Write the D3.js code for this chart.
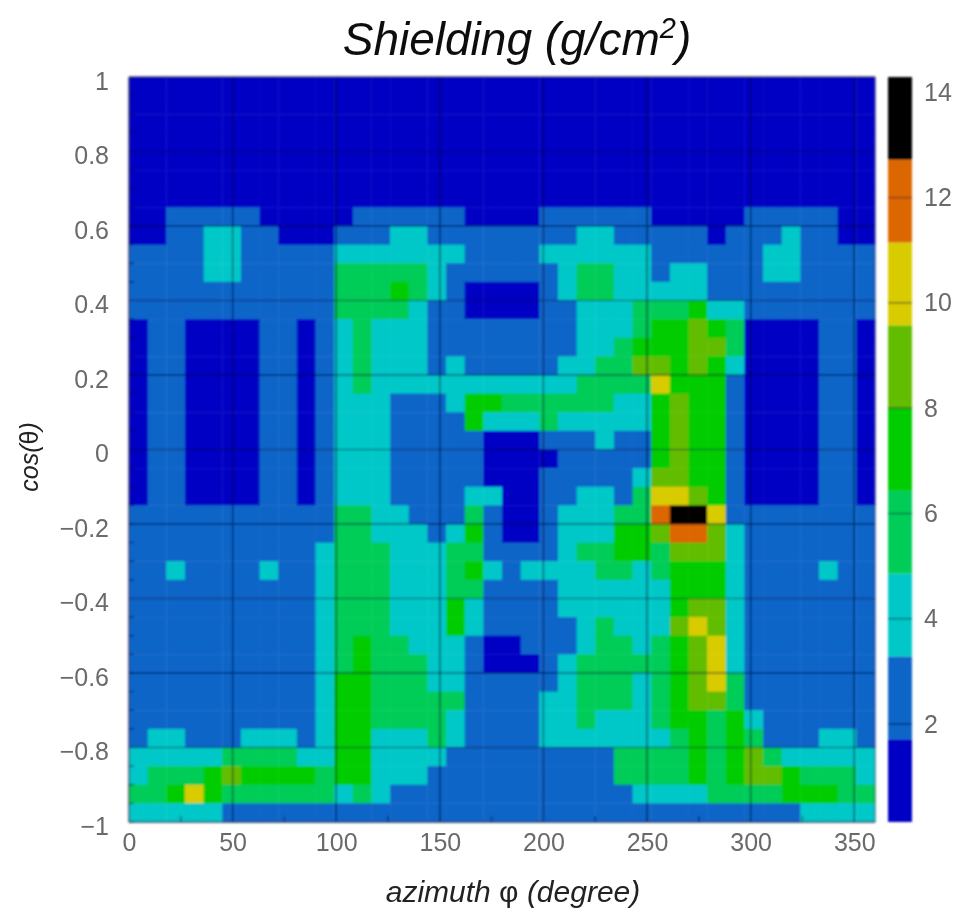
<!DOCTYPE html>
<html>
<head>
<meta charset="utf-8">
<title>Shielding</title>
<script src="https://cdnjs.cloudflare.com/ajax/libs/d3/7.8.5/d3.min.js"></script>
<style>
  html, body { margin: 0; background: #fff; }
  text { font-family: "Liberation Sans", Arial, sans-serif; }
  .tick text { fill: #6a6a6a; }
</style>
</head>
<body>
<div id="chart"></div>
<script>
var xTicks = [0, 50, 100, 150, 200, 250, 300, 350];
var yTicks = [-1, -0.8, -0.6, -0.4, -0.2, 0, 0.2, 0.4, 0.6, 0.8, 1];
var barTicks = [2, 4, 6, 8, 10, 12, 14];

// colour bands of the palette, low to high
var bandColors = ["#0000c4", "#0865c8", "#04c8c8", "#00cc58", "#00cc00", "#62bd00", "#d8cc00", "#dc6600", "#000000"];
// shielding value read for each band (g/cm2)
var bandValues = [0.9, 2.5, 4.1, 5.6, 7.2, 8.8, 10.4, 11.9, 13.5];
var valueRange = [0.14, 14.29];

var phiEdges = d3.range(0, 360, 9);
var cosEdges = d3.range(1, -1, -0.05);

// one string per cos(theta) row from the top, one digit (band) per 9 degree bin
var shieldingRows = [
  "0000000000000000000000000000000000000000",
  "0000000000000000000000000000000000000000",
  "0000000000000000000000000000000000000000",
  "0000000000000000000000000000000000000000",
  "0000000000000000000000000000000000000000",
  "0000000000000000000000000000000000000000",
  "0000000000000000000000000000000000000000",
  "0011111000001111110000111111000001111100",
  "0011221100011122111111112211111011121100",
  "1111221111122222221111222222111111221111",
  "1111221111133333211111123322122111221111",
  "1111111111133343210000123322222111111111",
  "1111111111133332110000112223334221111111",
  "0110000110123222111111112223445430000110",
  "0110000110123222111111112234445530000110",
  "0110000110123222121111122335545420000110",
  "0110000110123222222222223333644410000110",
  "0110000110122211124433333322454410000110",
  "0110000110122211114222322222454410000110",
  "0110000110122211111000111211454410000110",
  "0110000110122211111000011111454410000110",
  "0110000110122211111000111112554410000110",
  "0110000110122211112200112213665410000110",
  "1111111111133221113100122233788611111111",
  "1111111111133222124100122244577521111111",
  "1111111111233322233111123344355521111111",
  "1121111211233322234212222332344421111211",
  "1111111111233322233111122222244421111111",
  "1111111111233322242111122222245521111111",
  "1111111111233322242111112322256521111111",
  "1111111111234332221001112332345621111111",
  "1111111111234333221000123333345621111111",
  "1111111111244333221111123332345631111111",
  "1111111111244333331111223332345531111111",
  "1111111111244333321111223222344342111111",
  "1221112221244222321111222222234343111221",
  "2222233332244222211111111133334345322222",
  "2333454444344222111111111133334345543332",
  "3346433333323211111111111112222333344433",
  "2222211111111111111111111111111111112222"
];

var width = 958, height = 914;
var margin = { left: 129, right: 875, top: 77, bottom: 822 };

var svg = d3.select("#chart").append("svg")
    .attr("width", width)
    .attr("height", height);

var defs = svg.append("defs");
defs.append("filter").attr("id", "soft")
    .attr("x", "-5%").attr("y", "-5%").attr("width", "110%").attr("height", "110%")
    .append("feGaussianBlur").attr("stdDeviation", 0.8);
defs.append("filter").attr("id", "softText")
    .attr("x", "-5%").attr("y", "-5%").attr("width", "110%").attr("height", "110%")
    .append("feGaussianBlur").attr("stdDeviation", 0.45);

var x = d3.scaleLinear().domain([0, 360]).range([margin.left, margin.right]);
var y = d3.scaleLinear().domain([-1, 1]).range([margin.bottom, margin.top]);
var barY = d3.scaleLinear().domain(valueRange).range([margin.bottom, margin.top]);
var color = d3.scaleQuantize().domain(valueRange).range(bandColors);

var plot = svg.append("g").attr("filter", "url(#soft)");

// cells
shieldingRows.forEach(function(row, j) {
    var cos1 = cosEdges[j];
    plot.selectAll(null)
      .data(row.split(""))
      .enter().append("rect")
        .attr("x", function(d, i) { return x(phiEdges[i]); })
        .attr("y", y(cos1))
        .attr("width", function(d, i) { return x(phiEdges[i] + 9) - x(phiEdges[i]) + 0.4; })
        .attr("height", y(cos1 - 0.05) - y(cos1) + 0.4)
        .attr("fill", function(d) { return color(bandValues[+d]); });
});

// grid lines, then the small ticks on the frame
var gridColor = "rgba(0,0,40,0.72)";
plot.selectAll(".gx").data(xTicks).enter().append("line")
    .attr("x1", x).attr("x2", x)
    .attr("y1", margin.top).attr("y2", margin.bottom)
    .attr("stroke", gridColor).attr("stroke-width", 1.2);
plot.selectAll(".gy").data(yTicks).enter().append("line")
    .attr("x1", margin.left).attr("x2", margin.right)
    .attr("y1", y).attr("y2", y)
    .attr("stroke", gridColor).attr("stroke-width", 1.2);
plot.selectAll(".mx").data(d3.range(25, 360, 50)).enter().append("line")
    .attr("x1", x).attr("x2", x)
    .attr("y1", margin.bottom - 6).attr("y2", margin.bottom)
    .attr("stroke", gridColor);
plot.selectAll(".my").data(d3.range(-1, 1, 0.05)).enter().append("line")
    .attr("x1", margin.left).attr("x2", margin.left + 5)
    .attr("y1", y).attr("y2", y)
    .attr("stroke", gridColor);
plot.append("rect")
    .attr("x", margin.left).attr("y", margin.top)
    .attr("width", margin.right - margin.left).attr("height", margin.bottom - margin.top)
    .attr("fill", "none").attr("stroke", "#4a4a70").attr("stroke-width", 0.8);

// axis labels
var labels = svg.append("g").attr("filter", "url(#softText)");

var xAxis = labels.append("g")
    .attr("transform", "translate(0," + margin.bottom + ")")
    .call(d3.axisBottom(x).tickValues(xTicks).tickSize(0).tickPadding(11).tickFormat(d3.format("d")));
xAxis.select(".domain").remove();
xAxis.selectAll("text").attr("font-size", 25).style("font-family", '"Liberation Sans"');

// labels sit a little under their grid lines in the original
var yAxis = labels.append("g")
    .attr("transform", "translate(" + margin.left + ",4)")
    .call(d3.axisLeft(y).tickValues(yTicks).tickSize(0).tickPadding(20).tickFormat(d3.format("~g")));
yAxis.select(".domain").remove();
yAxis.selectAll("text").attr("font-size", 25).style("font-family", '"Liberation Sans"');

// colour bar
var bandEdges = d3.range(bandColors.length).map(function(i) { return color.invertExtent(bandColors[i]); });
var bar = svg.append("g").attr("filter", "url(#soft)");
bar.selectAll("rect").data(bandEdges).enter().append("rect")
    .attr("x", 888)
    .attr("width", 24)
    .attr("y", function(d) { return barY(d[1]); })
    .attr("height", function(d) { return barY(d[0]) - barY(d[1]); })
    .attr("fill", function(d) { return color(d[0] + 0.1); });
bar.selectAll("line").data(barTicks).enter().append("line")
    .attr("x1", 888).attr("x2", 912)
    .attr("y1", barY).attr("y2", barY)
    .attr("stroke", "rgba(0,0,40,0.7)");

var barAxis = labels.append("g")
    .attr("transform", "translate(912,0)")
    .call(d3.axisRight(barY).tickValues(barTicks).tickSize(0).tickPadding(12).tickFormat(d3.format("d")));
barAxis.select(".domain").remove();
barAxis.selectAll("text").attr("font-size", 25).style("font-family", '"Liberation Sans"');

// title and axis titles
var title = labels.append("text")
    .attr("x", 517).attr("y", 55)
    .attr("text-anchor", "middle")
    .attr("font-size", 46)
    .attr("font-style", "italic")
    .attr("fill", "#111");
title.append("tspan").text("Shielding (g/cm");
title.append("tspan").text("2").attr("font-size", 29).attr("dy", -17);
title.append("tspan").text(")").attr("dy", 17);

var xTitle = labels.append("text")
    .attr("x", 513).attr("y", 902)
    .attr("text-anchor", "middle")
    .attr("font-size", 30)
    .attr("font-style", "italic")
    .attr("fill", "#222");
xTitle.append("tspan").text("azimuth ");
xTitle.append("tspan").text("φ").attr("font-style", "normal");
xTitle.append("tspan").text(" (degree)");

var yTitle = labels.append("text")
    .attr("transform", "translate(38,457) rotate(-90)")
    .attr("text-anchor", "middle")
    .attr("font-size", 25)
    .attr("font-style", "italic")
    .attr("fill", "#222");
yTitle.append("tspan").text("cos(");
yTitle.append("tspan").text("θ").attr("font-style", "normal");
yTitle.append("tspan").text(")");
</script>
</body>
</html>
